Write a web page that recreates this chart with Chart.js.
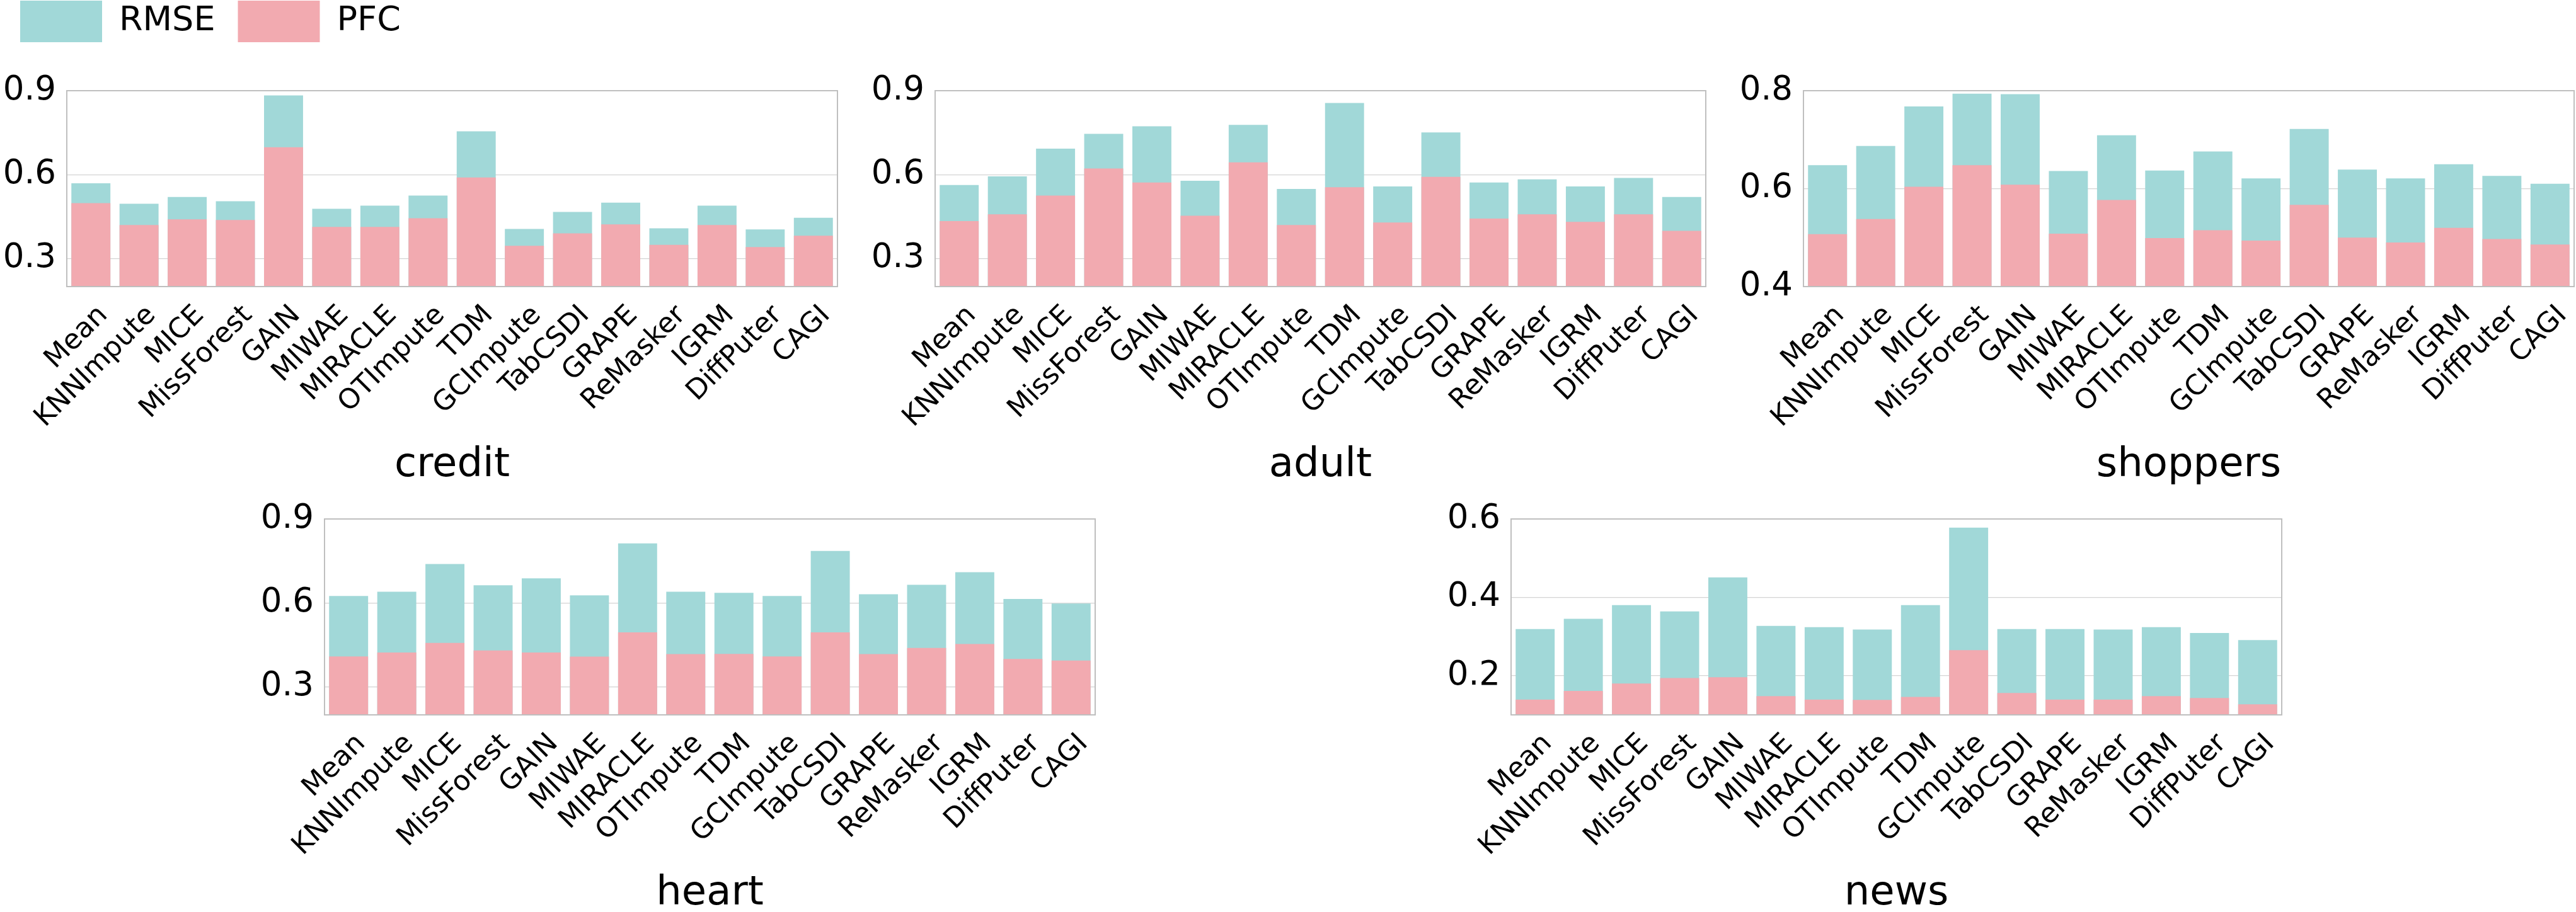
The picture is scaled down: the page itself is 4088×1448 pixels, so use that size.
<!DOCTYPE html>
<html>
<head>
<meta charset="utf-8">
<script src="https://cdn.jsdelivr.net/npm/chart.js@4.4.1/dist/chart.umd.min.js"></script>
<style>
  html, body { margin: 0; padding: 0; width: 4088px; height: 1448px; overflow: hidden; background: #ffffff; }
  canvas { position: absolute; }
</style>
</head>
<body>
<canvas id="c-credit"></canvas>
<canvas id="c-adult"></canvas>
<canvas id="c-shoppers"></canvas>
<canvas id="c-heart"></canvas>
<canvas id="c-news"></canvas>
<script>
// ---------- data ----------
const methods = ['Mean', 'KNNImpute', 'MICE', 'MissForest', 'GAIN', 'MIWAE', 'MIRACLE', 'OTImpute',
                 'TDM', 'GCImpute', 'TabCSDI', 'GRAPE', 'ReMasker', 'IGRM', 'DiffPuter', 'CAGI'];
const seriesNames = ['RMSE', 'PFC'];

const creditRMSE = [0.569, 0.496, 0.520, 0.505, 0.883, 0.478, 0.489, 0.525, 0.755, 0.406, 0.467, 0.500, 0.408, 0.489, 0.404, 0.446];
const creditPFC  = [0.498, 0.420, 0.440, 0.438, 0.698, 0.413, 0.413, 0.444, 0.590, 0.346, 0.390, 0.422, 0.349, 0.420, 0.341, 0.382];

const adultRMSE = [0.563, 0.594, 0.693, 0.746, 0.773, 0.578, 0.778, 0.549, 0.856, 0.558, 0.751, 0.572, 0.583, 0.558, 0.588, 0.520];
const adultPFC  = [0.434, 0.458, 0.525, 0.622, 0.572, 0.453, 0.644, 0.420, 0.555, 0.429, 0.592, 0.443, 0.458, 0.431, 0.458, 0.399];

const shoppersRMSE = [0.648, 0.687, 0.768, 0.794, 0.793, 0.636, 0.709, 0.637, 0.676, 0.621, 0.722, 0.639, 0.621, 0.650, 0.626, 0.610];
const shoppersPFC  = [0.507, 0.538, 0.604, 0.648, 0.608, 0.508, 0.577, 0.499, 0.515, 0.494, 0.567, 0.500, 0.490, 0.520, 0.497, 0.486];

const heartRMSE = [0.625, 0.640, 0.739, 0.663, 0.688, 0.627, 0.813, 0.640, 0.636, 0.625, 0.786, 0.631, 0.665, 0.710, 0.614, 0.598];
const heartPFC  = [0.409, 0.423, 0.457, 0.430, 0.423, 0.408, 0.495, 0.417, 0.418, 0.409, 0.495, 0.417, 0.439, 0.453, 0.400, 0.394];

const newsRMSE = [0.319, 0.345, 0.380, 0.364, 0.451, 0.327, 0.324, 0.318, 0.380, 0.578, 0.319, 0.319, 0.318, 0.324, 0.309, 0.291];
const newsPFC  = [0.139, 0.161, 0.180, 0.194, 0.196, 0.148, 0.139, 0.138, 0.146, 0.265, 0.156, 0.139, 0.139, 0.148, 0.143, 0.127];

// axis ranges and tick labels
const creditRange = [0.2, 0.9],   creditTicks = [0.3, 0.6, 0.9];
const adultRange = [0.2, 0.9],    adultTicks = [0.3, 0.6, 0.9];
const shoppersRange = [0.4, 0.8], shoppersTicks = [0.4, 0.6, 0.8];
const heartRange = [0.2, 0.9],    heartTicks = [0.3, 0.6, 0.9];
const newsRange = [0.1, 0.6],     newsTicks = [0.2, 0.4, 0.6];

// ---------- style / layout ----------
const FONT = 'DejaVu Sans';
const TEAL = '#a1d8d8';
const PINK = '#f2aab0';
const YW = 110;      // y axis width
const XH = 323;      // x axis (labels + title) height
const PR = 60;       // right padding
const PAD_TOP = 60;  // top padding for charts without legend
const PW = 1223;     // plot width
const PH = 311;      // plot height
const LEGEND_TOP = -35;

const framePlugin = {
  id: 'frame',
  afterDatasetsDraw(chart) {
    const { ctx, chartArea: a } = chart;
    ctx.save();
    ctx.strokeStyle = '#bfbfbf';
    ctx.lineWidth = 2;
    ctx.strokeRect(a.left, a.top, a.right - a.left, a.bottom - a.top);
    ctx.restore();
  }
};

const legendSpacer = {
  id: 'legendSpacer',
  beforeUpdate(chart, args, opts) {
    const lg = chart.legend;
    if (lg && !lg.__wrapped) {
      const f = lg.fit;
      lg.fit = function () { f.call(this); this.height += (opts && opts.extra) || 0; };
      lg.__wrapped = true;
    }
  }
};

function makeChart(p) {
  const cv = document.getElementById(p.id);
  const top = p.legend ? LEGEND_TOP : p.T - PAD_TOP;
  const width = YW + PW + PR;
  const height = (p.T + PH) - top + XH;
  cv.width = width; cv.height = height;
  cv.style.width = width + 'px'; cv.style.height = height + 'px';
  cv.style.left = (p.L - YW) + 'px'; cv.style.top = top + 'px';
  const legendNatural = 66 + 36 + 10;
  new Chart(cv, {
    type: 'bar',
    data: {
      labels: methods,
      datasets: [
        { label: seriesNames[0], data: p.rmse, backgroundColor: TEAL, borderWidth: 0, order: 1 },
        { label: seriesNames[1], data: p.pfc, backgroundColor: PINK, borderWidth: 0, order: 0 }
      ]
    },
    options: {
      responsive: false,
      animation: false,
      devicePixelRatio: 1,
      datasets: { bar: { grouped: false, categoryPercentage: 0.9, barPercentage: 0.9 } },
      layout: { padding: { top: p.legend ? 0 : PAD_TOP, right: PR, left: 0, bottom: 0 } },
      plugins: {
        legend: {
          display: !!p.legend,
          position: 'top',
          align: 'start',
          labels: {
            color: '#000',
            font: { family: FONT, size: 54 },
            boxWidth: 130,
            boxHeight: 66,
            padding: 36,
            sort: (a, b) => a.datasetIndex - b.datasetIndex
          }
        },
        tooltip: { enabled: false },
        legendSpacer: { extra: p.legend ? (p.T - LEGEND_TOP - legendNatural) : 0 }
      },
      scales: {
        x: {
          grid: { display: false, drawTicks: false },
          border: { display: false },
          ticks: {
            autoSkip: false, maxRotation: 45, minRotation: 45,
            padding: 20, labelOffset: 20,
            color: '#000', font: { family: FONT, size: 44 }
          },
          title: { display: true, text: p.title, color: '#000', font: { family: FONT, size: 64 }, padding: 0 },
          afterFit(s) { s.height = XH; }
        },
        y: {
          min: p.range[0], max: p.range[1],
          grid: { color: '#d4d4d4', lineWidth: 1.2, drawTicks: false },
          border: { display: false },
          ticks: {
            padding: 17, color: '#000', font: { family: FONT, size: 53 },
            callback: v => Number(v).toFixed(1)
          },
          afterBuildTicks(s) { s.ticks = p.ticks.map(v => ({ value: v })); },
          afterFit(s) { s.width = YW; }
        }
      }
    },
    plugins: [framePlugin, legendSpacer]
  });
}

makeChart({ id: 'c-credit', title: 'credit', rmse: creditRMSE, pfc: creditPFC, range: creditRange, ticks: creditTicks, L: 106, T: 144, legend: true });
makeChart({ id: 'c-adult', title: 'adult', rmse: adultRMSE, pfc: adultPFC, range: adultRange, ticks: adultTicks, L: 1484, T: 144 });
makeChart({ id: 'c-shoppers', title: 'shoppers', rmse: shoppersRMSE, pfc: shoppersPFC, range: shoppersRange, ticks: shoppersTicks, L: 2862, T: 144 });
makeChart({ id: 'c-heart', title: 'heart', rmse: heartRMSE, pfc: heartPFC, range: heartRange, ticks: heartTicks, L: 515, T: 824 });
makeChart({ id: 'c-news', title: 'news', rmse: newsRMSE, pfc: newsPFC, range: newsRange, ticks: newsTicks, L: 2398, T: 824 });
</script>
</body>
</html>
